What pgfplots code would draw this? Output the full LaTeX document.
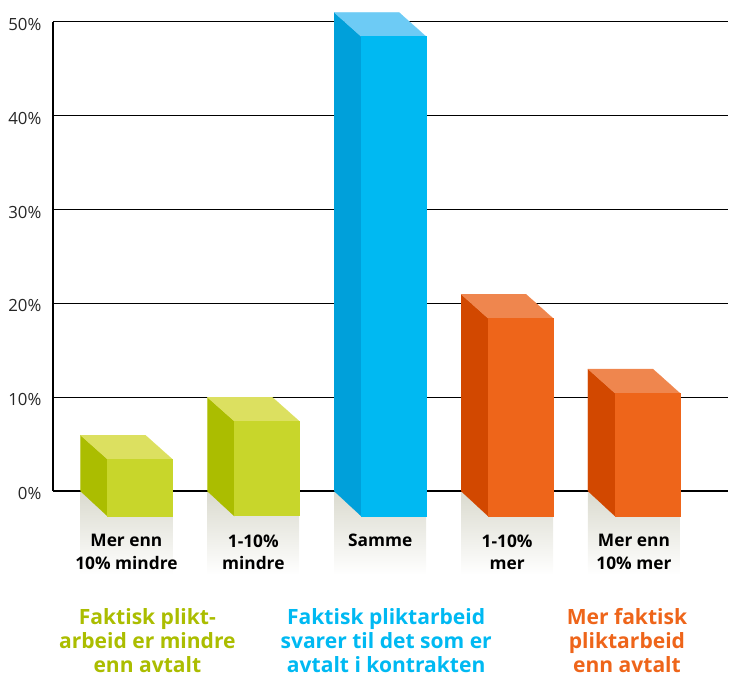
\documentclass[border=0pt]{standalone}
\usepackage{pgfplots}
\pgfplotsset{compat=1.18}
\usepackage{fontspec}
\setmainfont{Open Sans}
\definecolor{grn}{HTML}{ABBD00}
\definecolor{grnf}{HTML}{C8D62B}
\definecolor{grnt}{HTML}{DCE060}
\definecolor{blu}{HTML}{00B9F2}
\definecolor{blus}{HTML}{00A0DA}
\definecolor{blut}{HTML}{6DCBF5}
\definecolor{org}{HTML}{EE651A}
\definecolor{orgs}{HTML}{D24800}
\definecolor{orgt}{HTML}{EF864E}
\definecolor{shadow}{HTML}{DADACE}
% #1 left back x, #2 left front x, #3 right back x, #4 right x
% #5 value (back top), #6 front top, #7 front bottom
\newcommand{\threedbar}[7]{\def\xa{#1}\def\xb{#2}\def\xc{#3}\def\xd{#4}\def\yback{#5}\def\yfront{#6}\def\ybot{#7}\threedbarfaces}
% #1 side, #2 top, #3 front colour
\newcommand{\threedbarfaces}[3]{%
  \addplot[on layer=axis background,draw=none,shade,top color=shadow,bottom color=white] coordinates {(\xa,0) (\xd,0) (\xd,-8.9) (\xa,-8.9)} -- cycle;
  \addplot[draw=#1,line width=0.1pt,fill=#1] coordinates {(\xa,0) (\xb,-2.66) (\xb,\yfront) (\xa,\yback)} -- cycle;
  \addplot[draw=#2,line width=0.1pt,fill=#2] coordinates {(\xa,\yback) (\xc,\yback) (\xd,\yfront) (\xb,\yfront)} -- cycle;
  \addplot[draw=#3,line width=0.1pt,fill=#3] coordinates {(\xb,\yfront) (\xd,\yfront) (\xd,\ybot) (\xb,\ybot)} -- cycle;
}
\begin{document}
\begin{tikzpicture}
\begin{axis}[
  set layers,
  x=0.75pt, y=7.05pt,
  xmin=52.5, xmax=728.5, ymin=0, ymax=50,
  clip=false,
  axis lines=left,
  axis line style={-, black, line width=0.95pt},
  major tick length=0pt,
  ymajorgrids,
  grid style={black, line width=0.95pt},
  ytick={0,10,20,30,40,50},
  yticklabel={\pgfmathprintnumber{\tick}\%},
  yticklabel style={/pgf/number format/assume math mode=true, font=\fontsize{12.6}{15}\selectfont, text=black!85, anchor=east, xshift=-5.2pt, yshift=-2pt},
  xtick={126,253,380,507,634},
  xticklabels={{Mer enn\\10\% mindre},{1-10\%\\mindre},{Samme},{1-10\%\\mer},{Mer enn\\10\% mer}},
  xticklabel style={text=black, align=center, anchor=north, yshift=-29pt, font=\fontsize{13}{17.25}\selectfont\bfseries},
]
\path (axis cs:-0.5,-19.52) rectangle (axis cs:728.5,52.29);
\threedbar{80}{107}{145}{172}{5.96}{3.40}{-2.66}{grn}{grnt}{grnf}
\threedbar{207}{234}{272}{299}{10}{7.45}{-2.55}{grn}{grnt}{grnf}
\threedbar{334}{361}{399}{426}{50.96}{48.40}{-2.66}{blus}{blut}{blu}
\threedbar{461}{488}{526}{553}{20.96}{18.40}{-2.66}{orgs}{orgt}{org}
\threedbar{588}{615}{653}{680}{13}{10.43}{-2.66}{orgs}{orgt}{org}
\node[align=center, text=grn, font=\fontsize{15.8}{18}\selectfont\bfseries] at (axis cs:147,-15.9) {Faktisk plikt-\\arbeid er mindre\\enn avtalt};
\node[align=center, text=blu, font=\fontsize{15.8}{18}\selectfont\bfseries] at (axis cs:386,-15.9) {Faktisk pliktarbeid\\svarer til det som er\\avtalt i kontrakten};
\node[align=center, text=org, font=\fontsize{15.8}{18}\selectfont\bfseries] at (axis cs:627,-15.9) {Mer faktisk\\pliktarbeid\\enn avtalt};
\end{axis}
\end{tikzpicture}
\end{document}
